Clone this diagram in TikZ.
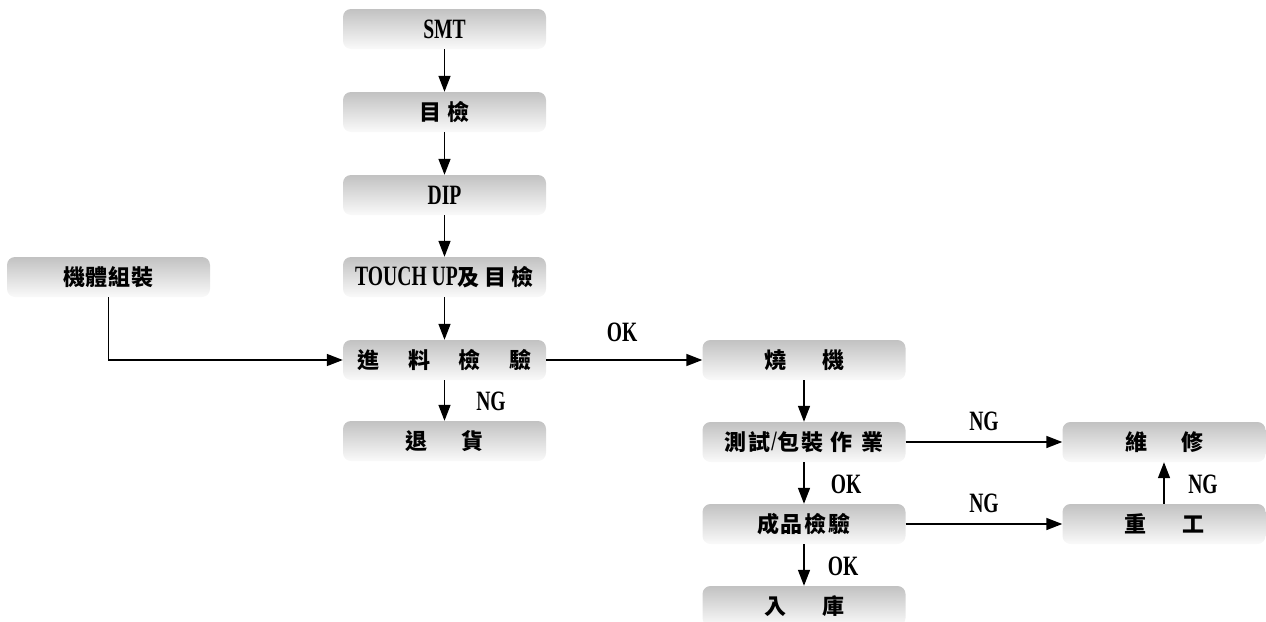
\documentclass[tikz,border=0pt]{standalone}
\usepackage{fontspec}
\usetikzlibrary{arrows.meta}
\newfontfamily\cjkfont{Noto Sans CJK TC}
\newfontfamily\latfont{Liberation Serif}[FakeStretch=0.7]
\newcommand\latx[1]{{\latfont\bfseries\fontsize{28}{30}\selectfont #1}}
\newcommand\gp[1]{\hskip#1pt}
\tikzset{
  box/.style={minimum width=203pt, minimum height=40pt, rounded corners=8pt,
    top color=black!24, bottom color=black!2, inner sep=0pt,
    font=\cjkfont\bfseries\fontsize{22}{26}\selectfont},
  lbl/.style={inner sep=0pt},
  arr/.style={-{Triangle[length=16pt,width=12pt]}, line width=1.5pt}
}
\begin{document}
\begin{tikzpicture}[x=1pt,y=-1pt]
\useasboundingbox (0,0) rectangle (1266,621);
\clip (0,0) rectangle (1266,621);
\node[box] (smt) at (444.5,29) {\latx{SMT}};
\node[box] (mj)  at (444.5,112) {目\gp{6}檢};
\node[box] (dip) at (444.5,195) {\latx{DIP}};
\node[box] (tu)  at (444.5,277) {\latx{TOUCH UP}及\gp{5}目\gp{5}檢};
\node[box] (jl)  at (444.5,360) {進\gp{29}料\gp{29}檢\gp{29}驗};
\node[box] (th)  at (444.5,441) {退\gp{35}貨};
\node[box] (jt)  at (108.5,277) {機\gp{1}體\gp{1}組\gp{1}裝};
\node[box] (sj)  at (804,360) {燒\gp{36}機};
\node[box] (cs)  at (804,442) {測\gp{2}試\gp{1}\latx{/}\gp{1}包\gp{2}裝\gp{7}作\gp{9}業};
\node[box] (cp)  at (804,524) {成\gp{2}品\gp{2}檢\gp{2}驗};
\node[box] (rk)  at (804,606) {入\gp{36}庫};
\node[box] (wx)  at (1164,442) {維\gp{34}修};
\node[box] (cg)  at (1164,524) {重\gp{36}工};

\draw[arr] (smt) -- (mj);
\draw[arr] (mj) -- (dip);
\draw[arr] (dip) -- (tu);
\draw[arr] (tu) -- (jl);
\draw[arr] (jl) -- (th);
\draw[arr] (jt.south) |- (jl.west);
\draw[arr] (jl) -- (sj);
\draw[arr] (sj) -- (cs);
\draw[arr] (cs) -- (cp);
\draw[arr] (cp) -- (rk);
\draw[arr] (cs) -- (wx);
\draw[arr] (cp) -- (cg);
\draw[arr] (cg) -- (wx);

\node[lbl] (l1) at (622,332) {\latx{OK}};
\node[lbl] (l2) at (491,401) {\latx{NG}};
\node[lbl] (l3) at (984,421) {\latx{NG}};
\node[lbl] (l4) at (846,484) {\latx{OK}};
\node[lbl] (l5) at (984,503) {\latx{NG}};
\node[lbl] (l6) at (843,566) {\latx{OK}};
\node[lbl] (l7) at (1203,484) {\latx{NG}};
\end{tikzpicture}
\end{document}
